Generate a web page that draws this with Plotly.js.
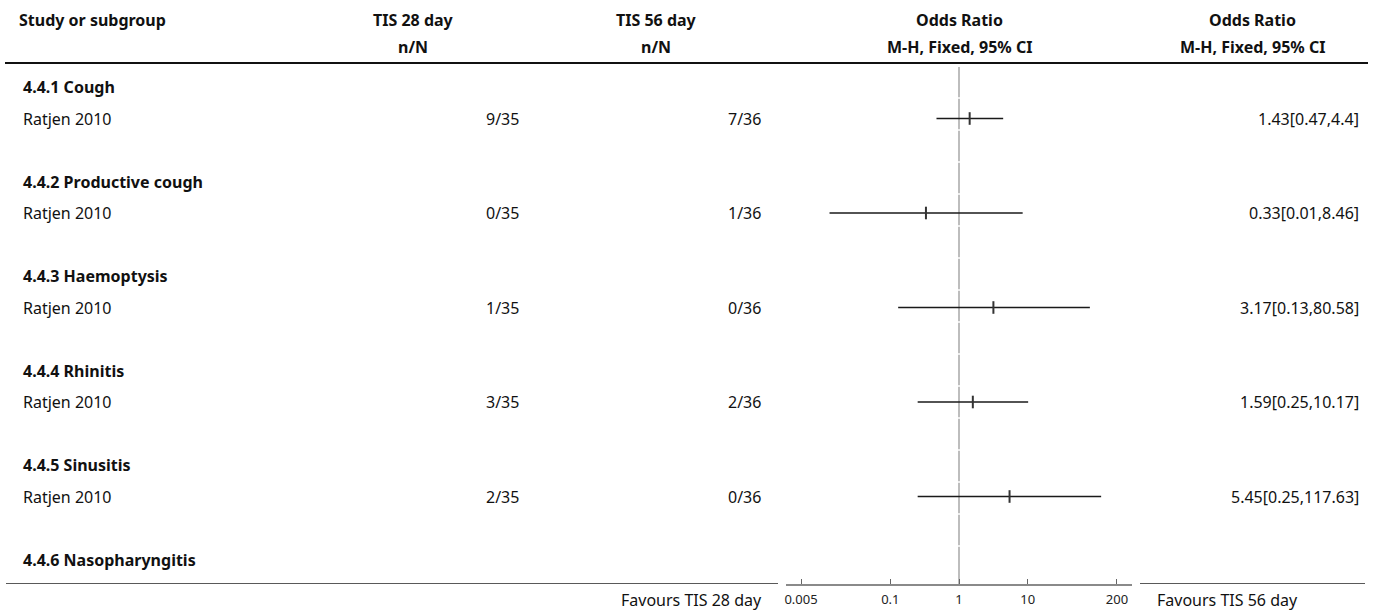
<!DOCTYPE html>
<html>
<head>
<meta charset="utf-8">
<script src="https://cdn.plot.ly/plotly-3.0.1.min.js"></script>
<style>html,body{margin:0;padding:0;background:#fff}#chart{width:1375px;height:615px}</style>
</head>
<body>
<div id="chart"></div>
<script>
// ---- data ----
const groups = ['4.4.1 Cough', '4.4.2 Productive cough', '4.4.3 Haemoptysis', '4.4.4 Rhinitis', '4.4.5 Sinusitis', '4.4.6 Nasopharyngitis'];
const studyNames = ['Ratjen 2010', 'Ratjen 2010', 'Ratjen 2010', 'Ratjen 2010', 'Ratjen 2010', null];
const events28 = ['9/35', '0/35', '1/35', '3/35', '2/35', null];
const events56 = ['7/36', '1/36', '0/36', '2/36', '0/36', null];
const orValue = [1.43, 0.33, 3.17, 1.59, 5.45, null];
const ciLow = [0.47, 0.013, 0.13, 0.25, 0.25, null];
const ciHigh = [4.4, 8.46, 80.58, 10.17, 117.63, null];
const orLabels = ['1.43[0.47,4.4]', '0.33[0.01,8.46]', '3.17[0.13,80.58]', '1.59[0.25,10.17]', '5.45[0.25,117.63]', null];
const tickVals = [0.005, 0.1, 1, 10, 200];
const tickText = ['0.005', '0.1', '1', '10', '200'];
const favoursLeft = 'Favours TIS 28 day';
const favoursRight = 'Favours TIS 56 day';

// ---- layout geometry (pixels) ----
const W = 1375, H = 615;
const ROW0 = 87, ROWH = 31.5, PLOT_BOTTOM = 584;
const k = px => (px - ROW0) / ROWH;
const px = x => x / W;
const FONT = '"Noto Sans", "Open Sans", sans-serif';
const TXT = '#111';

const annotations = [];
function txt(text, xpx, y, anchor, bold, yref) {
  annotations.push({
    text: bold ? '<b>' + text + '</b>' : text,
    x: px(xpx), xref: 'paper', y: y, yref: yref || 'y',
    xanchor: anchor, yanchor: 'middle', showarrow: false,
    font: {family: FONT, size: 16, color: TXT}
  });
}

// headers
txt('Study or subgroup', 17, k(20), 'left', true);
txt('TIS 28 day', 413, k(20), 'center', true);
txt('n/N', 413, k(47), 'center', true);
txt('TIS 56 day', 656, k(20), 'center', true);
txt('n/N', 656, k(47), 'center', true);
txt('Odds Ratio', 959, k(20), 'center', true);
txt('M-H, Fixed, 95% CI', 959, k(47), 'center', true);
txt('Odds Ratio', 1252, k(20), 'center', true);
txt('M-H, Fixed, 95% CI', 1252, k(47), 'center', true);

// rows
const ciX = [], ciY = [], ptX = [], ptY = [];
groups.forEach((g, i) => {
  const kh = 3 * i;
  txt(g, 21, kh, 'left', true);
  if (studyNames[i]) {
    const ks = kh + 1;
    txt(studyNames[i], 21, ks, 'left', false);
    txt(events28[i], 521, ks, 'right', false);
    txt(events56[i], 763, ks, 'right', false);
    txt(orLabels[i], 1361, ks, 'right', false);
    ciX.push(ciLow[i], ciHigh[i], null); ciY.push(ks, ks, null);
    ptX.push(orValue[i]); ptY.push(ks);
  }
});

// favours labels
const yFav = -(600 - PLOT_BOTTOM) / PLOT_BOTTOM;
txt(favoursLeft, 764, yFav, 'right', false, 'paper');
txt(favoursRight, 1155, yFav, 'left', false, 'paper');

// shapes
const shapes = [
  {type: 'line', xref: 'paper', yref: 'y', x0: px(5), x1: px(1368), y0: k(63), y1: k(63), line: {color: '#111', width: 2}},
  {type: 'line', xref: 'paper', yref: 'y', x0: px(6), x1: px(778), y0: k(584), y1: k(584), line: {color: '#222', width: 1.6}},
  {type: 'line', xref: 'paper', yref: 'y', x0: px(1140), x1: px(1365), y0: k(584), y1: k(584), line: {color: '#222', width: 1.6}}
];
// null line at OR = 1 with tiny breaks
const gaps = [];
for (let j = 0; j < 15; j++) gaps.push(k(98 + 32 * j));
let start = k(67);
gaps.forEach(g => {
  shapes.push({type: 'line', xref: 'x', yref: 'y', x0: 1, x1: 1, y0: start, y1: g - 0.02, line: {color: '#9a9a9a', width: 1.3}, layer: 'below'});
  start = g + 0.02;
});
shapes.push({type: 'line', xref: 'x', yref: 'y', x0: 1, x1: 1, y0: start, y1: k(584), line: {color: '#9a9a9a', width: 1.3}, layer: 'below'});

const traces = [
  {type: 'scatter', mode: 'lines', x: ciX, y: ciY, line: {color: '#1a1a1a', width: 1.5}, hoverinfo: 'skip', cliponaxis: false},
  {type: 'scatter', mode: 'markers', x: ptX, y: ptY, marker: {symbol: 'line-ns', size: 9, line: {color: '#333', width: 2}}, hoverinfo: 'skip', cliponaxis: false}
];

const layout = {
  width: W, height: H,
  margin: {l: 0, r: 0, t: 0, b: H - PLOT_BOTTOM, pad: 0},
  paper_bgcolor: '#fff', plot_bgcolor: 'rgba(0,0,0,0)',
  showlegend: false,
  xaxis: {
    type: 'log', domain: [px(786), px(1132)], range: [-2.52, 2.52],
    tickvals: tickVals, ticktext: tickText, ticks: 'inside', ticklen: 5, tickwidth: 1, tickcolor: '#666',
    ticklabelstandoff: 3,
    showline: true, linecolor: '#8a8a8a', linewidth: 1.6, showgrid: false, zeroline: false,
    tickfont: {family: FONT, size: 13, color: '#222'}, fixedrange: true
  },
  yaxis: {range: [k(PLOT_BOTTOM), k(0)], visible: false, showgrid: false, zeroline: false, fixedrange: true},
  annotations: annotations,
  shapes: shapes
};

Plotly.newPlot('chart', traces, layout, {staticPlot: true, displayModeBar: false});
</script>
</body>
</html>
